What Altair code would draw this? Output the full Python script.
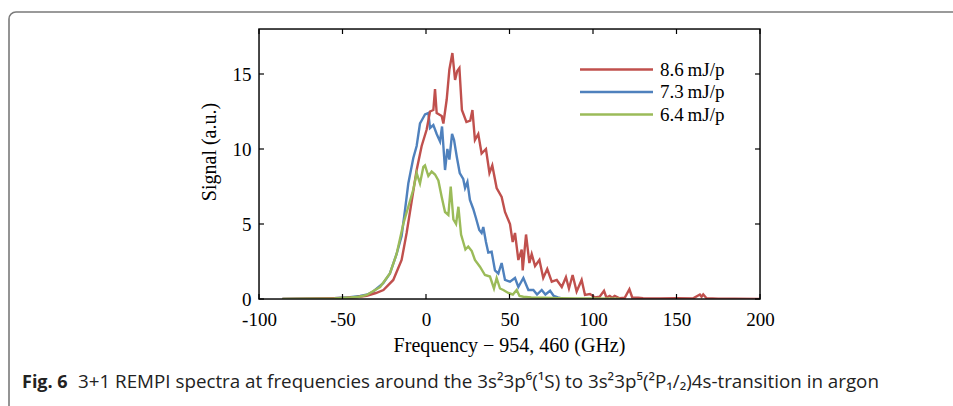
import altair as alt
import pandas as pd

# ---- data ----
red_freq = [-86, -75, -65, -55, -47.5, -42, -35.5, -30, -25.5, -19.6, -14.6, -11.6, -8.6, -5.6, -2.6, 0.4,
            2.4, 4.4, 5.4, 6.4, 9.4, 10.4, 12.4, 14.0, 15.8, 17.4, 18.7, 20.0, 21.5, 24.2, 26.5, 27.8,
            29.3, 31.3, 33.3, 35.9, 38.0, 39.7, 42.3, 45.3, 47.3, 50.3, 51.9, 53.3, 55.3, 57.3, 57.9,
            59.9, 61.9, 63.3, 65.3, 67.9, 70.2, 72.6, 75.3, 78.3, 81.3, 83.8, 85.6, 87.8, 90.2, 93.2,
            95.2, 98.2, 101.2, 104, 106.6, 108, 110, 111.5, 113, 116, 119, 121.8, 123.5, 127, 130,
            140, 150, 160, 164, 165, 166, 168, 175, 185, 200]
red_sig = [0.0, 0.02, 0.03, 0.05, 0.08, 0.12, 0.22, 0.4, 0.6, 1.27, 2.6, 4.4, 6.5, 8.6, 10.2, 11.3,
           12.5, 12.6, 14.0, 12.4, 12.2, 11.7, 13.3, 15.3, 16.4, 14.6, 15.2, 15.4, 12.6, 11.8, 11.9, 12.6,
           10.6, 11.0, 9.7, 10.0, 8.4, 8.9, 7.4, 6.8, 5.8, 5.0, 3.8, 4.4, 2.6, 3.3, 1.9,
           4.3, 2.4, 3.0, 2.2, 2.6, 1.4, 2.0, 1.15, 1.27, 0.8, 1.45, 0.7, 1.6, 0.5, 1.27,
           0.27, 0.33, 0.1, 0.15, 0.55, 0.1, 0.2, 0.08, 0.2, 0.05, 0.08, 0.65, 0.1, 0.08, 0.05,
           0.04, 0.05, 0.04, 0.3, 0.15, 0.3, 0.05, 0.02, 0.02, 0.0]

blue_freq = [-86, -75, -65, -55, -45.5, -39.5, -35, -31.6, -25.6, -21.6, -17.6, -14.6, -12.6, -10.6,
             -7.6, -5.6, -3.6, -2.6, -0.6, 1.4, 2.4, 4.4, 6.4, 8.4, 9.6, 11.4, 12.8, 14.0, 15.6, 16.8,
             18.4, 20.2, 22.3, 23.4, 24.8, 26.3, 28.3, 29.9, 31.9, 33.3, 34.3, 35.9, 37.3, 39.3, 41.3,
             43.3, 45.3, 47.3, 50.3, 53.3, 55.3, 58.3, 61.3, 64.3, 66.5, 69.3, 71.5, 74.3, 76.5, 79, 82]
blue_sig = [0.0, 0.02, 0.03, 0.05, 0.12, 0.2, 0.3, 0.5, 1.05, 1.7, 3.0, 4.2, 5.9, 7.7,
            9.4, 10.2, 11.7, 11.9, 12.3, 12.4, 11.4, 11.6, 11.0, 10.5, 11.5, 8.6, 10.0, 9.3, 11.0, 10.6,
            9.5, 8.4, 8.0, 7.4, 7.8, 6.6, 6.0, 5.4, 4.6, 4.4, 4.8, 3.8, 3.1, 3.15, 1.9,
            1.7, 2.4, 1.27, 1.15, 1.4, 0.8, 1.4, 0.6, 0.6, 0.3, 0.6, 0.3, 0.55, 0.2, 0.1, 0.03]

green_freq = [-86, -70, -55, -45, -40, -35.5, -27.5, -21.6, -17.6, -13.6, -10.6, -7.6, -5.6, -3.6,
              -1.6, -0.6, 1.4, 3.4, 5.4, 7.4, 9.4, 11.4, 13.4, 14.8, 16.4, 18.0, 19.4, 21.0, 22.3,
              23.6, 25.3, 27.4, 29.3, 32.3, 35.3, 38.3, 40.7, 42.3, 44.3, 46.3, 49.3, 52, 54.3, 56,
              58.3, 63, 70, 80, 90, 100, 116]
green_sig = [0.0, 0.02, 0.04, 0.1, 0.15, 0.27, 0.8, 1.7, 3.0, 5.0, 6.15, 7.3, 8.4, 7.7,
             8.8, 8.9, 8.2, 8.5, 8.3, 7.9, 6.8, 5.8, 5.6, 7.5, 5.3, 5.0, 6.15, 4.3, 3.8,
             3.3, 3.5, 3.2, 2.6, 2.15, 1.6, 1.5, 0.7, 1.4, 0.7, 0.6, 0.4, 0.3, 0.6, 0.2,
             0.15, 0.1, 0.08, 0.05, 0.04, 0.03, 0.02]

series_names = ["8.6\u2009mJ/p", "7.3\u2009mJ/p", "6.4\u2009mJ/p"]
series_colors = ["#C0504D", "#4F81BD", "#9BBB59"]
x_ticks = [-100, -50, 0, 50, 100, 150, 200]
y_ticks = [0, 5, 10, 15]

x_title = "Frequency \u2212 954, 460 (GHz)"
y_title = "Signal (a.u.)"
caption_bold = "Fig. 6"
caption_rest = ("3+1 REMPI spectra at frequencies around the 3s\u00b23p\u2076(\u00b9S) to "
                "3s\u00b23p\u2075(\u00b2P\u2081/\u2082)4s-transition in argon")

# ---- layout ----
W, H = 501, 270
PL, PT = 259, 29
SERIF = "Liberation Serif"
SANS = "Open Sans"

xs = alt.Scale(domain=[-100, 200], nice=False, zero=False)
ys = alt.Scale(domain=[0, 18], nice=False, zero=False)

x_axis = alt.Axis(values=x_ticks, ticks=False, domain=False, grid=False, labelPadding=11,
                  labelFont=SERIF, labelFontSize=19, labelColor="#000", title=None,
                  labelFlush=False, labelExpr="'' + datum.value")
y_axis = alt.Axis(values=y_ticks, ticks=False, domain=False, grid=False, labelPadding=8,
                  labelFont=SERIF, labelFontSize=19, labelColor="#000", title=None,
                  labelFlush=False)

def line_layer(freq, sig, color):
    df = pd.DataFrame({"f": freq, "s": sig})
    return alt.Chart(df).mark_line(color=color, strokeWidth=2.4, clip=True).encode(
        x=alt.X("f:Q", scale=xs, axis=x_axis),
        y=alt.Y("s:Q", scale=ys, axis=y_axis),
    )

layers = [
    line_layer(blue_freq, blue_sig, series_colors[1]),
    line_layer(red_freq, red_sig, series_colors[0]),
    line_layer(green_freq, green_sig, series_colors[2]),
]

one = pd.DataFrame({"a": [0]})

# plot frame
layers.append(alt.Chart(one).mark_rect(fill=None, stroke="#111", strokeWidth=1.5).encode(
    x=alt.value(0), x2=alt.value(W), y=alt.value(0), y2=alt.value(H)))

# inward tick marks on all four sides
xt = pd.DataFrame({"t": x_ticks})
yt = pd.DataFrame({"t": y_ticks})
tk = dict(color="#000", strokeWidth=1.2)
layers += [
    alt.Chart(xt).mark_rule(**tk).encode(x=alt.X("t:Q", scale=xs), y=alt.value(H), y2=alt.value(H - 5)),
    alt.Chart(xt).mark_rule(**tk).encode(x=alt.X("t:Q", scale=xs), y=alt.value(0), y2=alt.value(5)),
    alt.Chart(yt).mark_rule(**tk).encode(y=alt.Y("t:Q", scale=ys), x=alt.value(0), x2=alt.value(5)),
    alt.Chart(yt).mark_rule(**tk).encode(y=alt.Y("t:Q", scale=ys), x=alt.value(W), x2=alt.value(W - 5)),
]

# manual legend
for i, (name, col) in enumerate(zip(series_names, series_colors)):
    yy = 40.5 + i * 22.5
    layers.append(alt.Chart(one).mark_rule(color=col, strokeWidth=2.4).encode(
        x=alt.value(321), x2=alt.value(394), y=alt.value(yy)))
    layers.append(alt.Chart(one).mark_text(align="left", baseline="middle", font=SERIF,
                                           fontSize=19, color="#000").encode(
        x=alt.value(401), y=alt.value(yy), text=alt.value(name)))

# axis titles
layers.append(alt.Chart(one).mark_text(align="center", baseline="middle", font=SERIF,
                                       fontSize=20, color="#000").encode(
    x=alt.value(W / 2), y=alt.value(317), text=alt.value(x_title)))
layers.append(alt.Chart(one).mark_text(align="center", baseline="middle", font=SERIF,
                                       fontSize=20, color="#000", angle=270).encode(
    x=alt.value(210 - PL), y=alt.value(152 - PT), text=alt.value(y_title)))

# figure frame and caption
layers.append(alt.Chart(one).mark_rect(fill=None, stroke="#7a7a7a", strokeWidth=1.6,
                                       cornerRadius=7).encode(
    x=alt.value(9 - PL), x2=alt.value(980 - PL), y=alt.value(12 - PT), y2=alt.value(440 - PT)))
layers.append(alt.Chart(one).mark_text(align="left", baseline="alphabetic", font=SANS,
                                       fontSize=18, fontWeight="bold", color="#222").encode(
    x=alt.value(22 - PL), y=alt.value(388 - PT), text=alt.value(caption_bold)))
layers.append(alt.Chart(one).mark_text(align="left", baseline="alphabetic", font=SANS,
                                       fontSize=18.8, color="#222").encode(
    x=alt.value(78 - PL), y=alt.value(388 - PT), text=alt.value(caption_rest)))

chart = alt.layer(*layers).properties(
    width=W, height=H,
    autosize=alt.AutoSizeParams(type="none"),
    padding={"left": PL, "top": PT, "right": 953 - PL - W, "bottom": 406 - PT - H},
).configure_view(stroke=None).configure(background="white")

chart.save("out.html", embed_options={"renderer": "svg", "actions": False})
